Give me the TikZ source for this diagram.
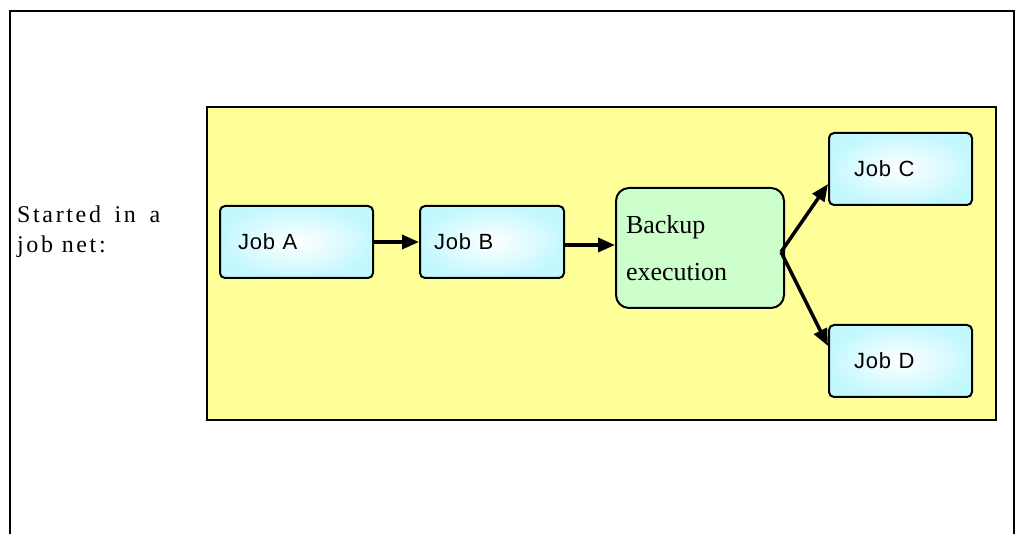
\documentclass[tikz,border=0pt]{standalone}
\usepackage{fontspec}
\setmainfont{Liberation Serif}
\newfontfamily\gothic[LetterSpace=4]{Liberation Sans}
\newfontfamily\spacedserif[LetterSpace=11]{Liberation Serif}
\usetikzlibrary{arrows.meta,calc}
\definecolor{netyellow}{HTML}{FFFF99}
\definecolor{jobcyan}{HTML}{C4F8FF}
\definecolor{backupgreen}{HTML}{CCFFCC}
\tikzset{
  jobbox/.style={draw=black, line width=2pt, rounded corners=5pt,
    inner color=white, outer color=jobcyan,
    minimum height=72pt, font=\gothic\fontsize{22}{26}\selectfont,
    align=left, anchor=north west},
  backupbox/.style={draw=black, line width=2pt, rounded corners=13pt,
    fill=backupgreen, minimum width=168pt, minimum height=120pt,
    font=\fontsize{26}{47}\selectfont, align=left, anchor=north west,
    text width=148pt, inner xsep=10pt},
  flow/.style={line width=3.5pt, -{Triangle[length=17pt,width=14pt]}},
}
\begin{document}
\begin{tikzpicture}[x=1pt,y=-1pt]
\useasboundingbox (0,0) rectangle (1018,534);
% outer frame
\draw[line width=2.5pt] (10,540) -- (10,11) -- (1014,11) -- (1014,540);
% job net area
\node[draw=black, line width=2pt, fill=netyellow, minimum width=789pt,
  minimum height=313pt, anchor=north west, inner sep=0pt] (net) at (206,106) {};
% caption
\node[anchor=north west, align=left, inner sep=0pt,
  font=\spacedserif\fontsize{24}{30}\selectfont] (caption)
  at (17,206) {Started\hspace{5pt} in\hspace{5pt} a\\job net:};
% jobs
\node[jobbox, minimum width=153pt, text width=117pt, inner xsep=18pt] (joba) at (219,205) {Job A};
\node[jobbox, minimum width=144pt, text width=116pt, inner xsep=14pt] (jobb) at (419,205) {Job B};
\node[backupbox] (backup) at (615,187) {Backup\\execution};
\node[jobbox, minimum width=143pt, text width=93pt, inner xsep=25pt] (jobc) at (828,132) {Job C};
\node[jobbox, minimum width=143pt, text width=93pt, inner xsep=25pt] (jobd) at (828,324) {Job D};
% connectors
\coordinate (fork) at (781,252);
\draw[flow] (joba.east) -- (jobb.west);
\draw[flow] ([yshift=-3pt]jobb.east) -- ([yshift=-3pt]jobb.east -| backup.west);
\draw[flow] (fork) -- ([yshift=-15pt]jobc.west);
\draw[flow] (fork) -- ([yshift=15pt]jobd.west);
\end{tikzpicture}
\end{document}
